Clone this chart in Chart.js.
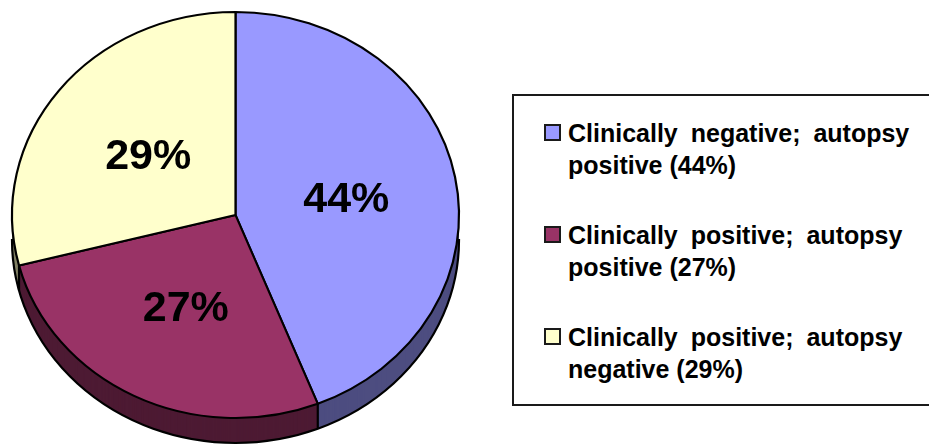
<!DOCTYPE html>
<html>
<head>
<meta charset="utf-8">
<script src="https://cdn.jsdelivr.net/npm/chart.js@4"></script>
<style>
html, body { margin: 0; padding: 0; background: #fff; overflow: hidden; }
#wrap { position: relative; width: 929px; height: 444px; overflow: hidden; }
#pieChart { position: absolute; left: 0; top: 0; }
#legendBox {
    position: absolute; left: 512px; top: 94px; width: 430px; height: 308px;
    border: 2px solid #1a1a1a; box-sizing: content-box; background: #fff;
    font: bold 25px "Liberation Sans", Arial, sans-serif; color: #000;
}
.item { position: absolute; left: 54px; width: 352px; line-height: 31.5px; }
.item::first-line { word-spacing: 6px; }
.swatch {
    position: absolute; left: -24px; top: 6px; width: 13px; height: 13px;
    border: 2px solid #1a1a1a;
}
</style>
</head>
<body>
<div id="wrap">
    <canvas id="pieChart" width="929" height="444"></canvas>
    <div id="legendBox"></div>
</div>
<script>
const categories = [
    'Clinically negative; autopsy positive (44%)',
    'Clinically positive; autopsy positive (27%)',
    'Clinically positive; autopsy negative (29%)'
];
const values = [44, 27, 29];
const topColors = ['#9999FF', '#993366', '#FFFFCC'];
const sideColors = ['#4D4D80', '#4D1A33', '#808066'];

// the pie gets drawn round and stretched sideways, plus a fake 3d rim
const stretchX = 223.5 / 203;
const depth = 25;

function rimPath(ctx, arc, dy) {
    ctx.beginPath();
    ctx.moveTo(arc.x, arc.y + dy);
    ctx.arc(arc.x, arc.y + dy, arc.outerRadius, arc.startAngle, arc.endAngle);
    ctx.closePath();
}

function stretch(ctx, arc) {
    ctx.translate(arc.x, arc.y);
    ctx.scale(stretchX, 1);
    ctx.translate(-arc.x, -arc.y);
}

const pie3d = {
    id: 'pie3d',
    beforeDatasetsDraw(chart) {
        const ctx = chart.ctx;
        const arcs = chart.getDatasetMeta(0).data;
        ctx.save();
        stretch(ctx, arcs[0]);

        // rim, bottom layer first
        for (let dy = depth; dy > 0; dy--) {
            arcs.forEach((arc, i) => {
                ctx.fillStyle = sideColors[i];
                rimPath(ctx, arc, dy);
                ctx.fill();
            });
        }

        // outline of the rim
        ctx.strokeStyle = '#000';
        ctx.lineWidth = 2;
        rimPath(ctx, { x: arcs[0].x, y: arcs[0].y, outerRadius: arcs[0].outerRadius,
            startAngle: 0, endAngle: Math.PI }, depth);
        ctx.stroke();
        arcs.forEach(arc => {
            const a = arc.startAngle;
            if (Math.sin(a) > 0) {
                const px = arc.x + Math.cos(a) * arc.outerRadius;
                const py = arc.y + Math.sin(a) * arc.outerRadius;
                ctx.beginPath();
                ctx.moveTo(px, py);
                ctx.lineTo(px, py + depth);
                ctx.stroke();
            }
        });
        ctx.restore();

        // everything the library draws next is stretched too
        ctx.save();
        stretch(ctx, arcs[0]);
    },
    afterDatasetsDraw(chart) {
        const ctx = chart.ctx;
        ctx.restore();

        const arcs = chart.getDatasetMeta(0).data;
        ctx.save();
        ctx.font = 'bold 43px "Liberation Sans", Arial, sans-serif';
        ctx.fillStyle = '#000';
        ctx.textAlign = 'center';
        ctx.textBaseline = 'middle';
        arcs.forEach((arc, i) => {
            const c = arc.getCenterPoint();
            const x = arc.x + (c.x - arc.x) * stretchX;
            ctx.fillText(values[i] + '%', x + 1, c.y + 4);
        });
        ctx.restore();
    }
};

new Chart(document.getElementById('pieChart').getContext('2d'), {
    type: 'pie',
    data: {
        labels: categories,
        datasets: [{
            data: values,
            backgroundColor: topColors,
            borderColor: '#000',
            borderWidth: 2,
            hoverOffset: 0
        }]
    },
    options: {
        responsive: false,
        animation: false,
        radius: 203,
        layout: { padding: { left: 33, right: 491, top: 12, bottom: 26 } },
        plugins: {
            legend: { display: false },
            tooltip: { enabled: false }
        }
    },
    plugins: [pie3d]
});

const legendBox = document.getElementById('legendBox');
categories.forEach((name, i) => {
    const item = document.createElement('div');
    item.className = 'item';
    item.style.top = (22 + i * 102) + 'px';
    item.textContent = name;
    const swatch = document.createElement('span');
    swatch.className = 'swatch';
    swatch.style.background = topColors[i];
    item.appendChild(swatch);
    legendBox.appendChild(item);
});
</script>
</body>
</html>
